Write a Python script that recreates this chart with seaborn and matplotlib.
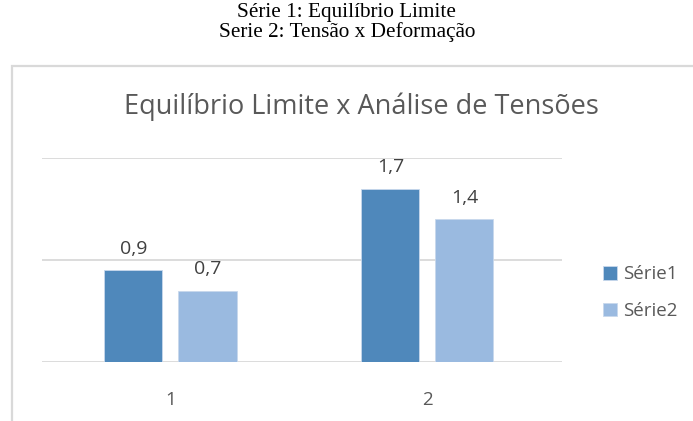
import matplotlib
matplotlib.use("Agg")
import matplotlib.pyplot as plt
import seaborn as sns
import pandas as pd
from matplotlib.patches import Rectangle

categories = ["1", "2"]
serie1 = [0.9, 1.7]
serie2 = [0.7, 1.4]
series_names = ["Série1", "Série2"]
value_labels1 = ["0,9", "1,7"]
value_labels2 = ["0,7", "1,4"]
header_lines = ["Série 1: Equilíbrio Limite", "Serie 2: Tensão x Deformação"]
title = "Equilíbrio Limite x Análise de Tensões"

df = pd.DataFrame({
    "cat": categories * 2,
    "val": serie1 + serie2,
    "serie": [series_names[0]] * len(categories) + [series_names[1]] * len(categories),
})

sns.set_theme(style="white")
plt.rcParams["font.family"] = ["Open Sans", "DejaVu Sans"]

W, H = 693, 421
fig = plt.figure(figsize=(W / 100, H / 100), dpi=100)
fig.patch.set_facecolor("white")

# chart frame
fig.patches.append(Rectangle((11.5 / W, -0.1), 1.2, (H - 66) / H + 0.1,
                             transform=fig.transFigure, fill=False,
                             edgecolor="#d9d9d9", linewidth=1.6, zorder=0))

# header text
fig.text(346 / W, 1 - 13 / H, header_lines[0], ha="center", va="center",
         family="Liberation Serif", fontsize=15.3, color="black")
fig.text(347 / W, 1 - 32 / H, header_lines[1], ha="center", va="center",
         family="Liberation Serif", fontsize=15.3, color="black")

# chart title
fig.text(361 / W, 1 - 107 / H, title, ha="center", va="center",
         fontsize=19.5, color="#595959")

ax = fig.add_axes([42 / W, 1 - 362 / H, 520 / W, (362 - 158) / H])
colors = ["#4f88bb", "#9abae0"]
sns.barplot(data=df, x="cat", y="val", hue="serie", palette=colors,
            width=0.576, gap=0.216, ax=ax, edgecolor="#c8d8ec", linewidth=0.6,
            saturation=1, legend=True, zorder=3)

ax.set_xlim(-0.5, 1.5235)
ax.set_ylim(0, 2)
ax.set_yticks([0, 1, 2])
ax.yaxis.grid(True, color="#d9d9d9", linewidth=1.3, zorder=0)
ax.set_yticklabels([])
ax.tick_params(axis="y", length=0)
ax.tick_params(axis="x", length=0, labelsize=13.5, labelcolor="#595959", pad=21)
for s in ax.spines.values():
    s.set_visible(False)
ax.set_xlabel("")
ax.set_ylabel("")

for cont, labs in zip(ax.containers, [value_labels1, value_labels2]):
    ax.bar_label(cont, labels=labs, padding=9, fontsize=14, color="#404040")

leg = ax.legend(loc="center left", bbox_to_anchor=(544 / 520, 0.34),
                frameon=False, fontsize=13.5, handlelength=0.75, handleheight=0.75,
                handletextpad=0.35, labelspacing=1.0)
for t in leg.get_texts():
    t.set_color("#595959")

fig.savefig("out.png", dpi=100)
